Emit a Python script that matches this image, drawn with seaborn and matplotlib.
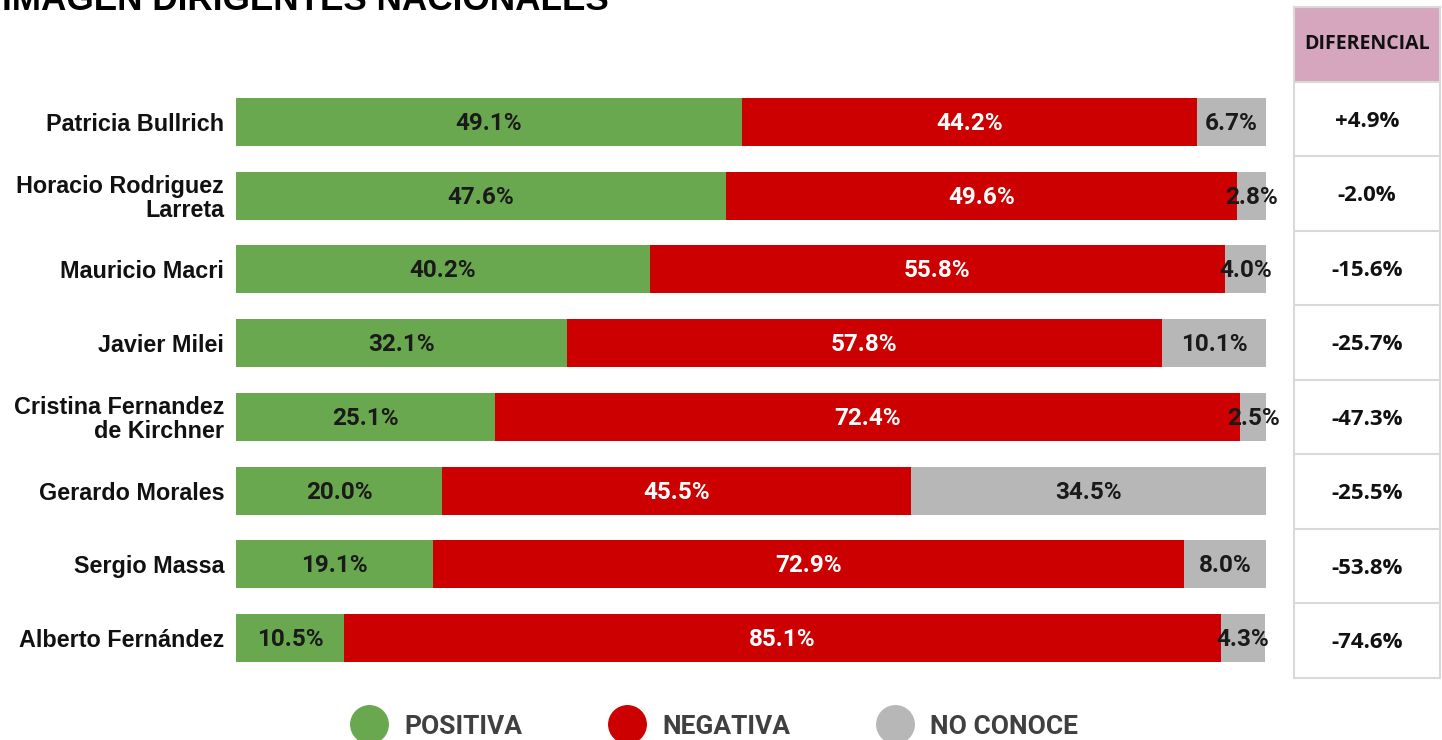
import matplotlib
matplotlib.use("Agg")
import matplotlib.pyplot as plt
from matplotlib.lines import Line2D
import pandas as pd
import seaborn as sns

names = ["Patricia Bullrich", "Horacio Rodriguez\nLarreta", "Mauricio Macri",
         "Javier Milei", "Cristina Fernandez\nde Kirchner", "Gerardo Morales",
         "Sergio Massa", "Alberto Fernández"]
positiva = [49.1, 47.6, 40.2, 32.1, 25.1, 20.0, 19.1, 10.5]
negativa = [44.2, 49.6, 55.8, 57.8, 72.4, 45.5, 72.9, 85.1]
no_conoce = [6.7, 2.8, 4.0, 10.1, 2.5, 34.5, 8.0, 4.3]
diferencial = ["+4.9%", "-2.0%", "-15.6%", "-25.7%", "-47.3%", "-25.5%", "-53.8%", "-74.6%"]

GREEN = "#6AA84F"
RED = "#CC0000"
GRAY = "#B7B7B7"
PINK = "#D5A6BD"
BORDER = "#D9D9D9"

df = pd.DataFrame({"name": names, "pos": positiva, "neg": negativa, "nc": no_conoce})
df["pos_neg"] = df["pos"] + df["neg"]
df["total"] = df["pos_neg"] + df["nc"]

sns.set_theme(style="white")
plt.rcParams["font.family"] = ["Roboto", "DejaVu Sans"]

W, H = 1442, 740
fig = plt.figure(figsize=(W / 100, H / 100), dpi=100)
fig.patch.set_facecolor("white")

# main bar axes (pixel based placement)
ax = fig.add_axes([236 / W, 1 - 675 / H, 1030 / W, 590 / H])
bw = 0.65
sns.barplot(data=df, y="name", x="total", color=GRAY, width=bw, linewidth=0,
            errorbar=None, saturation=1, ax=ax)
sns.barplot(data=df, y="name", x="pos_neg", color=RED, width=bw, linewidth=0,
            errorbar=None, saturation=1, ax=ax)
sns.barplot(data=df, y="name", x="pos", color=GREEN, width=bw, linewidth=0,
            errorbar=None, saturation=1, ax=ax)

ax.set_xlim(0, 100)
ax.set_ylim(7.5, -0.5)
ax.set_xlabel("")
ax.set_ylabel("")
ax.set_xticks([])
for s in ax.spines.values():
    s.set_visible(False)
ax.set_yticks(range(len(names)), names, fontfamily=["Liberation Sans", "DejaVu Sans"],
              fontweight="bold", fontsize=16.8, color="#111111", linespacing=1.05)
ax.tick_params(axis="y", length=0, pad=8.5)

lab_kw = dict(ha="center", va="center", fontsize=17.5, fontweight="bold")
for i, r in df.iterrows():
    ax.text(r["pos"] / 2, i + 0.02, f"{r['pos']:.1f}%", color="#1a1a1a", **lab_kw)
    ax.text(r["pos"] + r["neg"] / 2, i + 0.02, f"{r['neg']:.1f}%", color="white", **lab_kw)
    ax.text(r["pos_neg"] + r["nc"] / 2, i + 0.02, f"{r['nc']:.1f}%", color="#1a1a1a", **lab_kw)

# diferencial table
axt = fig.add_axes([1294 / W, 1 - 678 / H, 146 / W, 671 / H])
axt.set_xlim(0, 1)
axt.set_ylim(7.5, -1.5)
axt.axhspan(-1.5, -0.5, color=PINK, lw=0)
for y in range(-1, 8):
    axt.axhline(y - 0.5, color=BORDER, lw=1.5)
axt.set_xticks([])
axt.set_yticks([])
for s in axt.spines.values():
    s.set_color(BORDER)
    s.set_linewidth(1.5)
tab_font = ["Open Sans", "DejaVu Sans"]
axt.text(0.5, -1, "DIFERENCIAL", ha="center", va="center", fontsize=14,
         fontweight="bold", family=tab_font, color="#111111")
for i, d in enumerate(diferencial):
    axt.text(0.5, i + 0.03, d, ha="center", va="center", fontsize=16,
             fontweight="bold", family=tab_font, color="#111111")

# title (cut at top like the original)
fig.text(2 / W, 1 - 10 / H, "IMAGEN DIRIGENTES NACIONALES", ha="left", va="baseline",
         fontsize=25.3, fontweight="bold", family=["Liberation Sans", "DejaVu Sans"],
         color="black")

# legend
handles = [Line2D([], [], marker="o", linestyle="none", markersize=27,
                  markerfacecolor=c, markeredgecolor=c) for c in (GREEN, RED, GRAY)]
leg = fig.legend(handles, ["POSITIVA", "NEGATIVA", "NO CONOCE"], loc="center",
                 bbox_to_anchor=(0.495, 0.018), ncol=3, frameon=False,
                 handlelength=1.5, handletextpad=0.6, columnspacing=3.2,
                 borderpad=0, prop={"family": "Roboto", "weight": "bold", "size": 19})
for t in leg.get_texts():
    t.set_color("#404040")

fig.savefig("out.png", dpi=100, facecolor="white")
